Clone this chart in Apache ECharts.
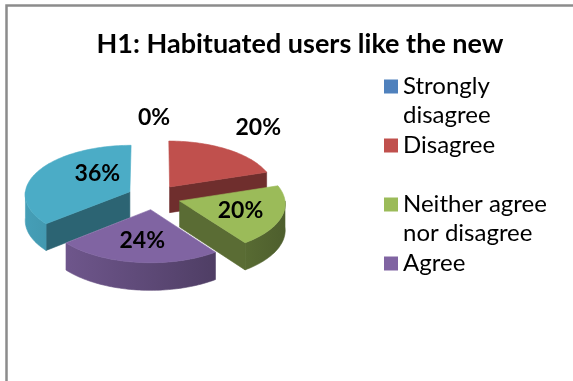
<!DOCTYPE html>
<html><head><meta charset="utf-8">
<script src="https://cdn.jsdelivr.net/npm/echarts@6/dist/echarts.min.js"></script>
<style>html,body{margin:0;padding:0;background:#fff}#c{width:573px;height:381px}</style>
</head><body><div id="c"></div>
<script>
// ---- data ----
const titleText = 'H1: Habituated users like the new';
const categories = ['Strongly disagree', 'Disagree', 'Neither agree nor disagree', 'Agree', 'Strongly agree'];
const values = [0, 20, 20, 24, 36];
const legendShown = ['Strongly disagree', 'Disagree', 'Neither agree nor disagree', 'Agree'];
const legendText = {
  'Strongly disagree': 'Strongly\ndisagree',
  'Disagree': 'Disagree\n ',
  'Neither agree nor disagree': 'Neither agree\nnor disagree',
  'Agree': 'Agree\n '
};

// ---- style ----
const colors = ['#4F81BD', '#C0504D', '#9BBB59', '#8064A2', '#4BACC6'];
const labelPlace = [[0.5, 1.5], [0.49, 1.6], [0.5, 0.6], [0.5, 0.6], [0.69, 0.5]]; // [fraction of slice angle, radius factor]
const CX = 154, CY = 197, R = 105, K = 0.47, E = 26.8, H = 26, PERS = 0.05;
const FONT = 'Lato';

const total = values.reduce((a, b) => a + b, 0);
const starts = []; { let c = 0; values.forEach(v => { starts.push(c); c += v; }); }

function project(x3, z3, up) {
  const f = 1 + PERS * z3 / R;
  return [CX + x3 * f, CY + z3 * K * f + up * H * f];
}
function shade(hex, f) {
  const n = parseInt(hex.slice(1), 16);
  const r = Math.round(((n >> 16) & 255) * f), g = Math.round(((n >> 8) & 255) * f), b = Math.round((n & 255) * f);
  return 'rgb(' + r + ',' + g + ',' + b + ')';
}

function makeRender(i) {
  return function (params, api) {
    const v = api.value(0);
    const a0 = starts[i] / total * 2 * Math.PI;
    const a1 = (starts[i] + v) / total * 2 * Math.PI;
    const am = (a0 + a1) / 2;
    const ox = E * Math.sin(am), oz = -E * Math.cos(am);
    const P3 = (ang, r, up) => project(ox + r * Math.sin(ang), oz - r * Math.cos(ang), up);
    const children = [];
    const base = colors[i];
    if (v > 0) {
      const arc = (b0, b1, up) => {
        const n = Math.max(2, Math.ceil((b1 - b0) / (Math.PI / 120)));
        const pts = [];
        for (let s = 0; s <= n; s++) pts.push(P3(b0 + (b1 - b0) * s / n, R, up));
        return pts;
      };
      const dark = shade(base, 0.58);
      const quad = (ang) => ({
        type: 'polygon',
        shape: { points: [P3(ang, 0, 0), P3(ang, R, 0), P3(ang, R, 1), P3(ang, 0, 1)] },
        style: { fill: dark, stroke: dark, lineWidth: 0.6 }
      });
      if (-Math.sin(a0) > 1e-6) children.push(quad(a0));
      if (Math.sin(a1) > 1e-6) children.push(quad(a1));
      const w0 = Math.max(a0, Math.PI / 2), w1 = Math.min(a1, 1.5 * Math.PI);
      if (w1 > w0) {
        const top = arc(w0, w1, 0), bot = arc(w0, w1, 1).reverse();
        const grad = new echarts.graphic.LinearGradient(CX - R - 40, 0, CX + R + 40, 0, [
          { offset: 0, color: shade(base, 0.95) },
          { offset: 0.5, color: shade(base, 0.72) },
          { offset: 1, color: shade(base, 0.48) }
        ], true);
        children.push({ type: 'polygon', shape: { points: top.concat(bot) }, style: { fill: grad, stroke: grad, lineWidth: 0.6 } });
      }
      const face = [P3(a0, 0, 0)].concat(arc(a0, a1, 0));
      children.push({ type: 'polygon', shape: { points: face }, style: { fill: base, stroke: base, lineWidth: 0.6 } });
    }
    const lp = labelPlace[i];
    const la = a0 + (a1 - a0) * lp[0];
    const pos = P3(la, R * lp[1], 0);
    children.push({
      type: 'text', x: pos[0], y: pos[1], z2: 100,
      style: { text: Math.round(v / total * 100) + '%', font: 'bold 23px ' + FONT, fill: '#000', align: 'center', verticalAlign: 'middle' }
    });
    return { type: 'group', children };
  };
}

// painter order: back to front
const mids = values.map((v, i) => (starts[i] + v / 2) / total * 2 * Math.PI);
const order = mids.map((m, i) => [-Math.cos(m), i]).sort((a, b) => a[0] - b[0]).map(d => d[1]);
const zOf = {}; order.forEach((idx, rank) => { zOf[idx] = 2 + rank; });

const series = categories.map((name, i) => ({
  type: 'custom', name, coordinateSystem: 'none', z: zOf[i],
  itemStyle: { color: colors[i] },
  renderItem: makeRender(i),
  data: [values[i]],
  silent: true
}));

const TITLE_SIZE = 27;
const cv = document.createElement('canvas').getContext('2d');
cv.font = 'bold ' + TITLE_SIZE + 'px ' + FONT;
const titleW = cv.measureText(titleText).width;

const chart = echarts.init(document.getElementById('c'), null, { renderer: 'canvas' });
chart.setOption({
  backgroundColor: '#fff',
  animation: false,
  title: {
    text: titleText, left: 300 - titleW / 2, top: 31, padding: 0,
    textStyle: { fontFamily: FONT, fontWeight: 'bold', fontSize: TITLE_SIZE, color: '#000' }
  },
  legend: {
    data: legendShown, orient: 'vertical', left: 384, top: 72, padding: 0,
    itemWidth: 14, itemHeight: 58, itemGap: 1,
    icon: 'path://M0,0M0,7.5L14,7.5L14,21.5L0,21.5ZM14,58',
    selectedMode: false,
    formatter: n => legendText[n],
    textStyle: { fontFamily: FONT, fontSize: 24, lineHeight: 29, color: '#000' }
  },
  graphic: [{
    type: 'rect', silent: true, z: 100,
    shape: { x: 6.5, y: 5.5, width: 700, height: 500 },
    style: { fill: 'none', stroke: '#8c8c8c', lineWidth: 2.5 }
  }],
  series
});
</script></body></html>
